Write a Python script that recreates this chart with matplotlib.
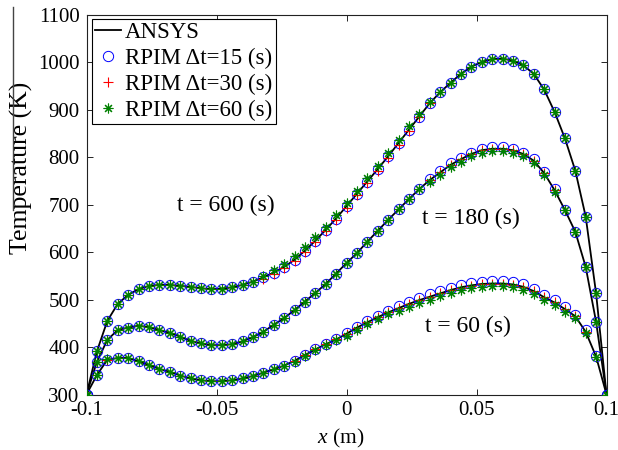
import matplotlib
matplotlib.use("Agg")
import matplotlib.pyplot as plt
import numpy as np
from matplotlib.lines import Line2D

plt.rcParams['font.family'] = ['Liberation Serif', 'DejaVu Serif']
plt.rcParams['mathtext.fontset'] = 'custom'
plt.rcParams['mathtext.it'] = 'Liberation Serif:italic'
plt.rcParams['mathtext.rm'] = 'Liberation Serif'
plt.rcParams['axes.unicode_minus'] = False

# 51 equally spaced nodes along the bar
x_nodes = np.linspace(-0.1, 0.1, 51)

# ANSYS reference solution at the nodes
ansys_600 = [300, 391, 455, 491, 510, 522, 529, 531, 531, 529,
             527, 524, 522, 523, 526, 531, 538, 547, 557, 569,
             584, 603, 624, 647, 671, 697, 723, 749, 775, 802,
             830, 858, 886, 914, 937, 957, 976, 991, 1001, 1007,
             1008, 1004, 994, 976, 943, 896, 840, 772, 675, 513, 300]
ansys_180 = [300, 369, 415, 436, 441, 445, 442, 436, 430, 422,
             413, 408, 404, 404, 406, 412, 421, 432, 447, 461,
             478, 496, 514, 533, 555, 577, 598, 622, 645, 668,
             690, 712, 733, 752, 768, 784, 796, 807, 815, 818,
             818, 815, 807, 793, 767, 731, 689, 643, 569, 453, 300]
ansys_60 = [300, 341, 373, 377, 377, 370, 362, 354, 348, 340,
            334, 330, 328, 328, 330, 334, 339, 346, 353, 361,
            371, 383, 395, 406, 416, 428, 441, 452, 463, 473,
            482, 491, 499, 506, 513, 520, 526, 530, 533, 534,
            534, 532, 527, 518, 505, 494, 480, 465, 432, 380, 300]

# RPIM, time step 15 s
rpim15_600 = [300, 391, 455, 491, 510, 522, 529, 531, 531, 529,
              527, 524, 522, 523, 526, 531, 538, 547, 557, 569,
              584, 603, 624, 647, 671, 697, 723, 749, 775, 802,
              830, 858, 886, 914, 937, 957, 976, 991, 1001, 1007,
              1008, 1004, 994, 976, 943, 896, 840, 772, 675, 513, 300]
rpim15_180 = [300, 369, 415, 436, 441, 445, 442, 436, 430, 422,
              413, 408, 404, 404, 406, 412, 421, 432, 447, 461,
              478, 496, 514, 533, 555, 577, 598, 622, 645, 668,
              690, 712, 733, 755, 771, 787, 799, 810, 818, 821,
              821, 818, 810, 796, 770, 734, 689, 643, 569, 453, 300]
rpim15_60 = [300, 341, 373, 377, 377, 370, 362, 354, 348, 340,
             334, 330, 328, 328, 330, 334, 339, 346, 353, 361,
             371, 383, 395, 406, 416, 430, 443, 454, 465, 475,
             487, 496, 504, 511, 518, 525, 531, 535, 538, 539,
             539, 537, 532, 523, 510, 499, 485, 468, 435, 381, 300]

# RPIM, time step 30 s
rpim30_600 = [300, 391, 455, 491, 510, 522, 529, 531, 531, 529,
              527, 524, 522, 523, 526, 531, 538, 544, 554, 566,
              581, 600, 621, 644, 668, 694, 720, 746, 772, 799,
              827, 855, 886, 914, 937, 957, 976, 991, 1001, 1007,
              1008, 1004, 994, 976, 943, 896, 840, 772, 675, 513, 300]
rpim30_180 = [300, 369, 415, 436, 441, 445, 442, 436, 430, 422,
              413, 408, 404, 404, 406, 412, 421, 432, 447, 461,
              478, 496, 514, 533, 555, 577, 598, 622, 645, 668,
              690, 712, 733, 752, 768, 784, 796, 807, 815, 818,
              818, 815, 807, 793, 767, 731, 689, 643, 569, 453, 300]
rpim30_60 = [300, 341, 373, 377, 377, 370, 362, 354, 348, 340,
             334, 330, 328, 328, 330, 334, 339, 346, 353, 361,
             371, 383, 395, 406, 416, 428, 441, 452, 463, 473,
             482, 491, 499, 506, 513, 520, 525, 529, 532, 533,
             533, 531, 526, 518, 505, 494, 480, 465, 432, 380, 300]

# RPIM, time step 60 s
rpim60_600 = [300, 391, 455, 491, 510, 522, 529, 531, 531, 529,
              527, 524, 522, 523, 526, 531, 538, 550, 562, 576,
              591, 610, 631, 654, 678, 704, 730, 756, 782, 809,
              837, 865, 891, 917, 937, 957, 976, 991, 1001, 1007,
              1008, 1004, 994, 976, 943, 896, 840, 772, 675, 513, 300]
rpim60_180 = [300, 369, 415, 436, 441, 445, 442, 436, 430, 422,
              413, 408, 404, 404, 406, 412, 421, 432, 447, 461,
              478, 496, 514, 533, 555, 577, 598, 622, 645, 668,
              690, 712, 733, 747, 763, 779, 791, 802, 810, 813,
              813, 810, 802, 788, 762, 726, 689, 643, 569, 453, 300]
rpim60_60 = [300, 341, 374, 377, 377, 370, 362, 354, 348, 340,
             334, 330, 328, 328, 330, 334, 339, 346, 353, 361,
             369, 381, 393, 404, 414, 424, 437, 448, 459, 469,
             476, 485, 493, 500, 507, 514, 520, 524, 527, 528,
             528, 526, 521, 512, 499, 488, 474, 461, 429, 379, 300]

x_ticks = [-0.1, -0.05, 0, 0.05, 0.1]
x_tick_labels = ['-0.1', '-0.05', '0', '0.05', '0.1']
y_ticks = [300, 400, 500, 600, 700, 800, 900, 1000, 1100]

W, H = 618, 450
fig = plt.figure(figsize=(W / 100, H / 100), dpi=100)
ax = fig.add_axes([86.5 / W, 1 - 394.5 / H, 520 / W, 379.5 / H])

green = (0, 0.5, 0)
asterisk = (8, 2, 0)

curves = [
    (ansys_600, rpim15_600, rpim30_600, rpim60_600),
    (ansys_180, rpim15_180, rpim30_180, rpim60_180),
    (ansys_60, rpim15_60, rpim30_60, rpim60_60),
]
for k, (ans, r15, r30, r60) in enumerate(curves):
    first = (k == 0)
    ax.plot(x_nodes, ans, color='k', lw=1.3, zorder=2,
            label='ANSYS' if first else None)
    ax.plot(x_nodes, r15, ls='none', marker='o', ms=7.4, mfc='none',
            mec='b', mew=0.7, zorder=3,
            label='RPIM \u0394t=15 (s)' if first else None)
    ax.plot(x_nodes, r30, ls='none', marker='+', ms=7, color='r',
            mew=0.8, zorder=4,
            label='RPIM \u0394t=30 (s)' if first else None)
    ax.plot(x_nodes, r60, ls='none', marker=asterisk, ms=7, color=green,
            mew=0.8, zorder=5,
            label='RPIM \u0394t=60 (s)' if first else None)

ax.set_xlim(-0.1, 0.1)
ax.set_ylim(300, 1100)
ax.set_xticks(x_ticks)
ax.set_xticklabels(x_tick_labels)
ax.set_yticks(y_ticks)
ax.tick_params(direction='in', top=True, right=True, length=4, width=0.6,
               labelsize=15, pad=5)
for sp in ax.spines.values():
    sp.set_linewidth(0.8)
    sp.set_color('#222222')

ax.text(-0.0653, 699, 't = 600 (s)', fontsize=17, ha='left', va='center')
ax.text(0.029, 672, 't = 180 (s)', fontsize=17, ha='left', va='center')
ax.text(0.0302, 444, 't = 60 (s)', fontsize=17, ha='left', va='center')

fig.text(341 / W, 1 - 438 / H, '$x$ (m)', fontsize=15.5, ha='center', va='center')
fig.text(21.5 / W, 1 - 168 / H, 'Temperature (K)', fontsize=18.5,
         rotation=90, ha='center', va='center')

# thin rule at the far left edge
fig.add_artist(Line2D([12.7 / W, 12.7 / W], [1 - 7 / H, 1 - 210 / H],
                      transform=fig.transFigure, color='#444444', lw=1.0,
                      zorder=10))

leg = ax.legend(loc='upper left', bbox_to_anchor=(92 / W, 1 - 19 / H),
                bbox_transform=fig.transFigure, borderaxespad=0,
                fontsize=16.5, frameon=True, fancybox=False,
                handlelength=1.1, handletextpad=0.2, borderpad=0.15,
                labelspacing=0.2, numpoints=1)
leg.get_frame().set_edgecolor('k')
leg.get_frame().set_linewidth(0.8)
leg.get_frame().set_alpha(1)

fig.savefig('out.png', dpi=100)
